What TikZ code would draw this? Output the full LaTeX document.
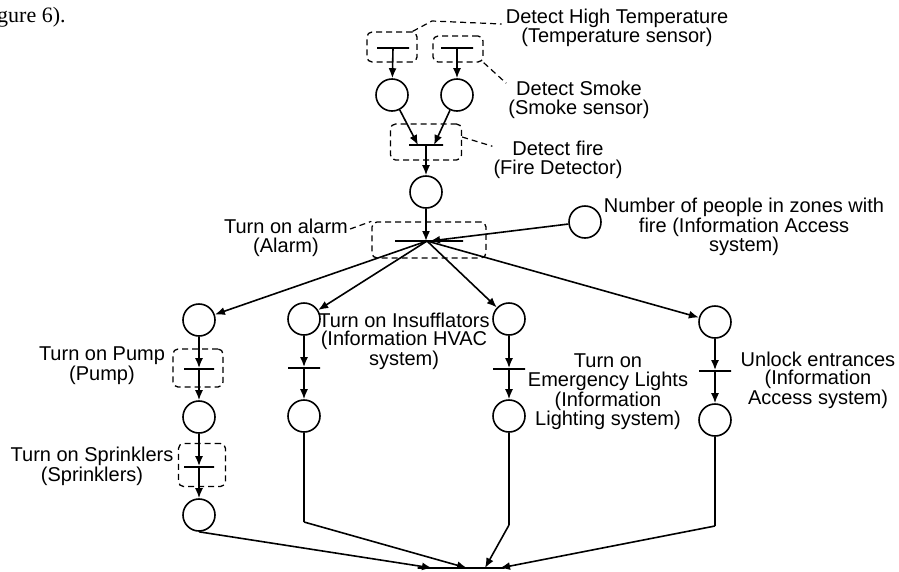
\documentclass[tikz,border=0pt]{standalone}
\usepackage{fontspec}
\setmainfont{Liberation Sans}
\newfontfamily\serifpage{Liberation Serif}
\usetikzlibrary{arrows.meta}
\begin{document}
\begin{tikzpicture}[x=1pt,y=-1pt,
  place/.style={circle,draw,line width=1.6pt,minimum size=32pt,inner sep=0pt},
  trans/.style={draw,line width=1.8pt,minimum width=32pt,minimum height=0pt,inner sep=0pt},
  grp/.style={draw,dash pattern=on 6pt off 4pt,rounded corners=5pt,line width=1.3pt,inner sep=0pt},
  lead/.style={dash pattern=on 6pt off 4pt,line width=1.2pt},
  arc/.style={-{Latex[length=10pt,width=8pt]},line width=1.6pt},
  lin/.style={line width=1.6pt},
  lab/.style={align=center,font=\fontsize{20pt}{18.5pt}\selectfont,inner sep=0pt}]
\useasboundingbox (0,0) rectangle (899,571);
% page text
\node[anchor=base west,inner sep=0pt,font=\serifpage\fontsize{22pt}{24pt}\selectfont] (pg) at (-3,22) {gure 6).};
% top part
\node[trans] (t1) at (393,48) {};
\node[trans] (t2) at (457,48) {};
\node[place] (p1) at (392,95) {};
\node[place] (p2) at (457,95) {};
\node[trans,minimum width=34pt] (t3) at (426,145) {};
\node[place] (p3) at (426,192) {};
\node[trans,minimum width=68pt] (t4) at (429,241) {};
\node[place] (pa) at (585,222) {};
% column 1
\node[place] (c1a) at (199,320) {};
\node[trans,minimum width=30pt] (tp) at (199,369) {};
\node[place] (c1b) at (199,417) {};
\node[trans,minimum width=30pt] (ts) at (199,467) {};
\node[place] (c1c) at (199,515) {};
% column 2
\node[place] (c2a) at (304,319) {};
\node[trans] (tin) at (304,368) {};
\node[place] (c2b) at (304,416) {};
\coordinate (k2) at (304,522);
% column 3
\node[place] (c3a) at (509,319) {};
\node[trans] (tem) at (509,369) {};
\node[place] (c3b) at (509,416) {};
\coordinate (k3) at (509,525);
% column 4
\node[place] (c4a) at (715,322) {};
\node[trans] (tun) at (715,371) {};
\node[place] (c4b) at (715,420) {};
\coordinate (k4) at (715,526);
% bottom
\node[trans,minimum width=87pt] (tb) at (461,568) {};
% group boxes
\node[grp,minimum width=50pt,minimum height=30pt] (g1) at (392,47) {};
\node[grp,minimum width=50pt,minimum height=26pt] (g2) at (458,49) {};
\node[grp,minimum width=71pt,minimum height=36pt] (g3) at (426,142) {};
\node[grp,minimum width=114pt,minimum height=36pt] (g4) at (429,240) {};
\node[grp,minimum width=50pt,minimum height=38pt] (g6) at (198,368) {};
\node[grp,minimum width=47pt,minimum height=43pt] (g7) at (202,465) {};
% labels
\node[lab] (l1) at (617,28) {Detect High Temperature\\(Temperature sensor)};
\node[lab] (l2) at (579,100) {Detect Smoke\\(Smoke sensor)};
\node[lab] (l3) at (558,160) {Detect fire\\(Fire Detector)};
\node[lab] (l4) at (286,238) {Turn on alarm\\(Alarm)};
\node[lab] (l5) at (744,227) {Number of people in zones with\\fire (Information Access\\system)};
\node[lab] (l6) at (102,366) {Turn on Pump\\(Pump)};
\node[lab] (l7) at (92,466) {Turn on Sprinklers\\(Sprinklers)};
\node[lab] (l8) at (404,341) {Turn on Insufflators\\(Information HVAC\\system)};
\node[lab] (l9) at (608,392) {Turn on\\Emergency Lights\\(Information\\Lighting system)};
\node[lab] (l10) at (818,380) {Unlock entrances\\(Information\\Access system)};
% leaders
\coordinate (q1) at (432,21);
\draw[lead] ([xshift=-5pt]g1.north east) -- (q1) -- ([yshift=4pt,xshift=-4pt]l1.west);
\draw[lead] (g2.south east) -- ([xshift=-2pt,yshift=-2pt]l2.north west);
\draw[lead] ([yshift=5pt]g3.east) -- ([xshift=-1pt,yshift=-5pt]l3.north west);
\draw[lead] ([yshift=9pt,xshift=2pt]l4.east) -- (g4.north west);
% arcs top
\draw[arc] (t1) -- (p1);
\draw[arc] (t2) -- (p2);
\draw[arc] (p1) -- ([xshift=-8pt]t3.center);
\draw[arc] (p2) -- ([xshift=8pt]t3.center);
\draw[arc] (t3) -- (p3);
\draw[arc] (p3) -- ([xshift=-3pt]t4.center);
\draw[arc] (pa) -- ([xshift=1pt]t4.center);
\draw[arc] ([xshift=-2pt]t4.center) -- (c1a);
\draw[arc] ([xshift=-2pt]t4.center) -- (c2a);
\draw[arc] ([xshift=-2pt]t4.center) -- (c3a);
\draw[arc] ([xshift=-2pt]t4.center) -- (c4a);
% column chains
\draw[arc] (c1a) -- (tp);
\draw[arc] (tp) -- (c1b);
\draw[arc] (c1b) -- (ts);
\draw[arc] (ts) -- (c1c);
\draw[arc] (c2a) -- (tin);
\draw[arc] (tin) -- (c2b);
\draw[arc] (c3a) -- (tem);
\draw[arc] (tem) -- (c3b);
\draw[arc] (c4a) -- (tun);
\draw[arc] (tun) -- (c4b);
% to bottom transition
\draw[arc] (c1c.south) -- ([xshift=-29pt]tb.center);
\draw[lin] (c2b) -- (k2);
\draw[arc] (k2) -- ([xshift=6pt]tb.center);
\draw[lin] (c3b) -- (k3);
\draw[arc] (k3) -- ([xshift=24pt]tb.center);
\draw[lin] (c4b) -- (k4);
\draw[arc] (k4) -- ([xshift=39pt]tb.center);
\end{tikzpicture}
\end{document}
